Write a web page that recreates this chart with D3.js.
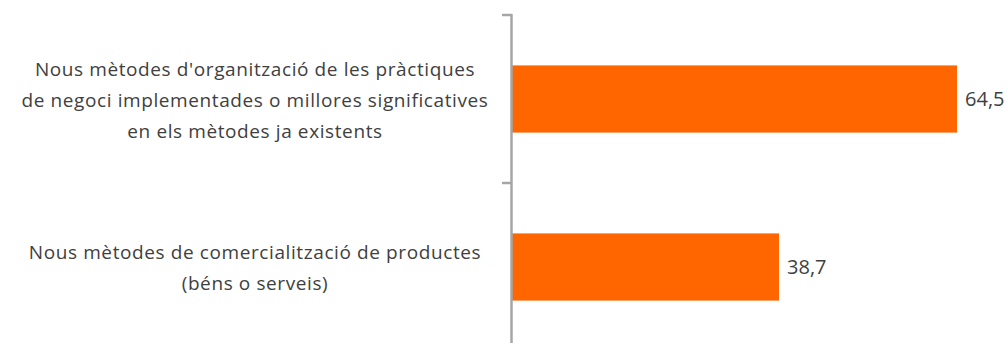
<!DOCTYPE html>
<html>
<head>
<meta charset="utf-8">
<script src="https://cdn.jsdelivr.net/npm/d3@7"></script>
<style>
  html, body { margin: 0; padding: 0; background: #fff; }
  svg { display: block; }
  text { font-family: "Open Sans", "Liberation Sans", sans-serif; fill: #404040; }
</style>
</head>
<body>
<svg id="chart" width="1007" height="343"></svg>
<script>
// Categories (each line of the wrapped label) and values
const categories = [
  "Nous mètodes d'organització de les pràctiques de negoci implementades o millores significatives en els mètodes ja existents",
  "Nous mètodes de comercialització de productes (béns o serveis)"
];
const categoryLines = [
  ["Nous mètodes d'organització de les pràctiques", "de negoci implementades o millores significatives", "en els mètodes ja existents"],
  ["Nous mètodes de comercialització de productes", "(béns o serveis)"]
];
const values = [64.5, 38.7];
const valueLabels = ["64,5", "38,7"];

const svg = d3.select("#chart");
const axisX = 512;
const labelCenterX = 255;

const x = d3.scaleLinear().domain([0, 70]).range([axisX, axisX + 70 * 6.9]);
const y = d3.scaleBand().domain(categories).range([15, 351]).paddingInner(0.6).paddingOuter(0.3);

// Bars
svg.selectAll("rect.bar")
  .data(values)
  .join("rect")
  .attr("class", "bar")
  .attr("x", x(0))
  .attr("y", (d, i) => y(categories[i]))
  .attr("width", d => x(d) - x(0))
  .attr("height", y.bandwidth())
  .attr("fill", "#ff6600");

// Value labels
svg.selectAll("text.val")
  .data(values)
  .join("text")
  .attr("class", "val")
  .attr("x", d => x(d) + 8)
  .attr("y", (d, i) => y(categories[i]) + y.bandwidth() / 2)
  .attr("dy", "0.35em")
  .attr("font-size", 20)
  .text((d, i) => valueLabels[i]);

// Category axis: vertical line with tick marks between categories
const tickYs = [15, 15 + y.step()];
svg.append("line")
  .attr("x1", axisX - 0.5).attr("x2", axisX - 0.5)
  .attr("y1", 14).attr("y2", 343)
  .attr("stroke", "#a6a6a6").attr("stroke-width", 2.5);
svg.selectAll("line.tick")
  .data(tickYs)
  .join("line")
  .attr("class", "tick")
  .attr("x1", axisX - 10).attr("x2", axisX)
  .attr("y1", d => d).attr("y2", d => d)
  .attr("stroke", "#a6a6a6").attr("stroke-width", 2.5);

// Category labels, centred and wrapped
const lineH = 31;
categoryLines.forEach((lines, i) => {
  const cy = y(categories[i]) + y.bandwidth() / 2 + 1;
  const t = svg.append("text")
    .attr("text-anchor", "middle")
    .attr("font-size", 19)
    .attr("letter-spacing", 0.6);
  lines.forEach((ln, j) => {
    t.append("tspan")
      .attr("x", labelCenterX)
      .attr("y", cy + (j - (lines.length - 1) / 2) * lineH)
      .attr("dy", "0.35em")
      .text(ln);
  });
});
</script>
</body>
</html>
